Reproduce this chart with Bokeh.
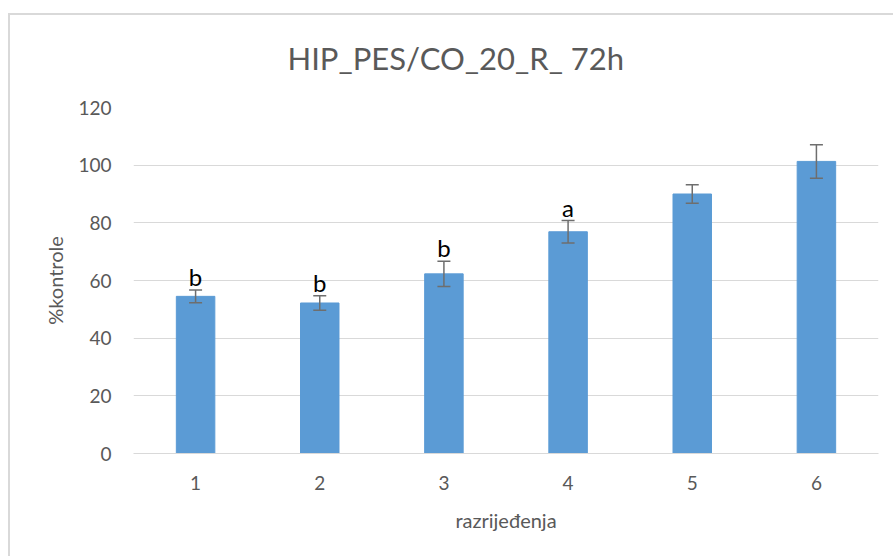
from bokeh.plotting import figure
from bokeh.models import ColumnDataSource, Whisker, TeeHead, FixedTicker, Title
from bokeh.core.properties import value
from bokeh.embed import file_html
from bokeh.resources import INLINE

categories = ["1", "2", "3", "4", "5", "6"]
values = [54.5, 52.2, 62.3, 76.9, 90.0, 101.3]
errors = [2.2, 2.5, 4.4, 3.9, 3.2, 5.8]
letters = ["b", "b", "b", "a", "", ""]
y_ticks = [0, 20, 40, 60, 80, 100, 120]

xs = list(range(1, len(categories) + 1))
src = ColumnDataSource(dict(
    x=xs, top=values,
    upper=[v + e for v, e in zip(values, errors)],
    lower=[v - e for v, e in zip(values, errors)],
    letter=letters,
))

FONT = "Lato"
GRAY = "#595959"

p = figure(width=893, height=556, output_backend="svg", toolbar_location=None,
           x_range=(0.5, len(categories) + 0.5), y_range=(0, 120),
           min_border_left=133, min_border_right=15, min_border_top=107,
           min_border_bottom=103)
p.border_fill_color = None
p.outline_line_color = None
p.styles = {"box-shadow": ("inset 0 13px 0 0 white, inset 8px 0 0 0 white, "
                           "inset 0 15px 0 0 #d9d9d9, inset 10px 0 0 0 #d9d9d9")}

p.vbar(x="x", top="top", width=0.31, source=src, fill_color="#5b9bd5",
       line_color="#5b9bd5")
whisk = Whisker(base="x", upper="upper", lower="lower", source=src,
                line_color="#6e6e6e", line_width=1.5, level="annotation",
                upper_head=TeeHead(size=13, line_color="#6e6e6e", line_width=1.5),
                lower_head=TeeHead(size=13, line_color="#6e6e6e", line_width=1.5))
p.add_layout(whisk)
p.text(x="x", y="upper", text="letter", source=src, text_align="center",
       text_baseline="bottom", y_offset=1, text_font=value(FONT),
       text_font_size="24px", text_color="black")

# axes
p.xaxis.ticker = FixedTicker(ticks=xs)
p.xaxis.major_label_overrides = {x: c for x, c in zip(xs, categories)}
p.yaxis.ticker = FixedTicker(ticks=y_ticks)
for ax in (p.xaxis, p.yaxis):
    ax.major_tick_line_color = None
    ax.minor_tick_line_color = None
    ax.major_label_text_font = FONT
    ax.major_label_text_font_size = "19px"
    ax.major_label_text_color = GRAY
    ax.axis_label_text_font = FONT
    ax.axis_label_text_font_size = "20px"
    ax.axis_label_text_font_style = "normal"
    ax.axis_label_text_color = GRAY
p.xaxis.axis_line_color = "#d9d9d9"
p.yaxis.axis_line_color = None
p.xaxis.major_label_standoff = 16
p.yaxis.major_label_standoff = 16
p.xaxis.axis_label = "razrijeđenja"
p.yaxis.axis_label = "%kontrole"
p.xaxis.axis_label_standoff = 15
p.yaxis.axis_label_standoff = 8

p.xgrid.grid_line_color = None
p.ygrid.grid_line_color = "#d9d9d9"
p.ygrid.grid_line_width = 1

title = Title(text="HIP_PES/CO_20_R_ 72h", align="left", offset=154,
              standoff=62, text_font=FONT, text_font_size="31px",
              text_font_style="normal", text_color=GRAY)
p.add_layout(title, "above")

open("out.html", "w").write(file_html(p, INLINE))
